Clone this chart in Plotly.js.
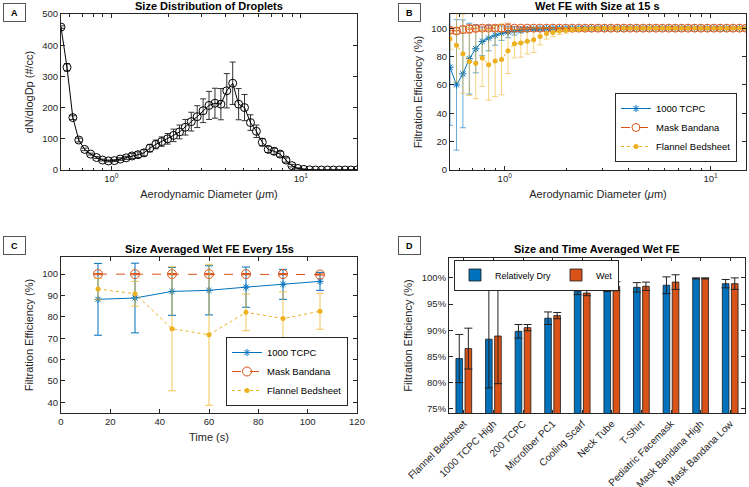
<!DOCTYPE html>
<html>
<head>
<meta charset="utf-8">
<script src="https://cdn.plot.ly/plotly-3.0.1.min.js"></script>
<style>
  html, body { margin: 0; padding: 0; background: #fff; }
  #chart { width: 749px; height: 487px; }
</style>
</head>
<body>
<div id="chart"></div>
<script>
// APS channel midpoints (um)
var diameters = [0.542, 0.583, 0.626, 0.673, 0.723, 0.777, 0.835, 0.898, 0.965, 1.037,
  1.114, 1.197, 1.286, 1.382, 1.486, 1.596, 1.715, 1.843, 1.981, 2.129,
  2.288, 2.458, 2.642, 2.839, 3.051, 3.278, 3.523, 3.786, 4.068, 4.371,
  4.698, 5.048, 5.425, 5.829, 6.264, 6.732, 7.234, 7.774, 8.354, 8.977,
  9.647, 10.37, 11.14, 11.97, 12.86, 13.82, 14.86, 15.96, 17.15, 18.43, 19.81];

// Panel A: droplet size distribution
var dNdlogDp = [458, 329, 168, 96, 66, 51, 40, 32, 29, 30,
  35, 39, 45, 49, 55, 70, 82, 91, 100, 111,
  122, 137, 155, 171, 190, 207, 214, 211, 254, 278,
  211, 200, 152, 124, 89, 66, 60, 51, 32, 14,
  5, 2, 0.5, 0, 0, 0, 0, 0, 0, 0, 0];
var dNdlogDpErr = [4, 12, 6, 6, 4, 3, 3, 3, 3, 3,
  4, 5, 8, 9, 10, 12, 14, 15, 17, 20,
  22, 25, 30, 35, 38, 45, 48, 50, 55, 68,
  50, 42, 25, 20, 12, 10, 10, 9, 7, 4,
  2, 1, 0, 0, 0, 0, 0, 0, 0, 0, 0];

// Panel B: wet FE by size at 15 s (first 47 channels)
var sizeB = diameters.slice(0, 47);
var tcpcSize = [72.5, 60, 67.8, 78.5, 85.5, 90.6, 93, 95, 96.4, 97.3,
  98.1, 98.7, 99.1, 99.4, 99.6, 99.7, 99.8, 99.9, 99.9, 100,
  100, 100, 100, 100, 100, 100, 100, 100, 100, 100,
  100, 100, 100, 100, 100, 100, 100, 100, 100, 100,
  100, 100, 100, 100, 100, 100, 100];
var tcpcSizeErr = [41, 46, 38, 25, 17, 10, 9, 7, 5, 4,
  3, 2, 1.5, 1, 1, 0.8, 0.5, 0.5, 0.4, 0.3,
  0.2, 0.2, 0.2, 0.2, 0.2, 0.2, 0.2, 0.2, 0.2, 0.2,
  0.2, 0.2, 0.2, 0.2, 0.2, 0.2, 0.2, 0.2, 0.2, 0.2,
  0.2, 0.2, 0.2, 0.2, 0.2, 0.2, 0.2];
var bandanaSize = [98.5, 98, 99, 99.5, 99.8, 100, 100, 100, 100, 100,
  100, 100, 100, 100, 100, 100, 100, 100, 100, 100,
  100, 100, 100, 100, 100, 100, 100, 100, 100, 100,
  100, 100, 100, 100, 100, 100, 100, 100, 100, 100,
  100, 100, 100, 100, 100, 100, 100];
var bandanaSizeErr = [2, 2, 2.5, 3, 2, 1.5, 1.5, 2, 2.5, 3.5,
  1, 1, 0.8, 0.6, 0.5, 0.4, 0.3, 0.3, 0.2, 0.2,
  0.2, 0.2, 0.2, 0.2, 0.2, 0.2, 0.2, 0.2, 0.2, 0.2,
  0.2, 0.2, 0.2, 0.2, 0.2, 0.2, 0.2, 0.2, 0.2, 0.2,
  0.2, 0.2, 0.2, 0.2, 0.2, 0.2, 0.2];
var flannelSize = [92.5, 88, 82, 76.5, 75.3, 79, 74.2, 76.8, 78, 84,
  89, 89.5, 90.8, 91.8, 94.2, 96.3, 97, 98, 98.5, 99,
  99.3, 99.5, 99.7, 99.8, 99.9, 99.9, 100, 100, 100, 100,
  100, 100, 100, 100, 100, 100, 100, 100, 100, 100,
  100, 100, 100, 100, 100, 100, 100];
var flannelSizeErr = [7.5, 26, 28, 24, 25, 20, 25, 25, 25, 16,
  10, 10, 9, 9, 6, 4, 3, 2.5, 2, 1.5,
  1, 0.8, 0.6, 0.5, 0.4, 0.3, 0.3, 0.3, 0.3, 0.3,
  0.3, 0.3, 0.3, 0.3, 0.3, 0.3, 0.3, 0.3, 0.3, 0.3,
  0.3, 0.3, 0.3, 0.3, 0.3, 0.3, 0.3];

// Panel C: size averaged wet FE every 15 s
var timeC = [15, 30, 45, 60, 75, 90, 105];
var tcpcTime = [88.2, 88.8, 91.9, 92.4, 93.9, 95.2, 96.6];
var tcpcTimeErr = [16.8, 16.3, 11.2, 11.5, 9.4, 7, 4.2];
var bandanaTime = [100, 100, 100, 100, 100, 100, 99.8];
var bandanaTimeErr = [0.3, 0.3, 0.3, 0.3, 0.3, 0.3, 0.3];
var flannelTime = [93, 90.8, 74.4, 71.6, 82.1, 79.2, 82.6];
var flannelTimeErr = [5, 5.8, 29, 33, 8.6, 12.5, 8.4];

// Panel D: size and time averaged FE
var materials = ['Flannel Bedsheet', '1000 TCPC High', '200 TCPC', 'Microfiber PC1', 'Cooling Scarf',
  'Neck Tube', 'T-Shirt', 'Pediatric Facemask', 'Mask Bandana High', 'Mask Bandana Low'];
var dryFE = [84.6, 88.3, 89.8, 92.3, 97.5, 98.2, 98.2, 98.6, 99.9, 98.9];
var dryErr = [4.6, 9.3, 1.3, 1.2, 0.7, 0.8, 0.9, 1.6, 0.1, 0.8];
var wetFE = [86.5, 88.9, 90.5, 92.8, 97.1, 98.4, 98.4, 99.2, 99.9, 98.9];
var wetErr = [3.9, 9.1, 0.6, 0.6, 0.5, 0.85, 0.8, 1.4, 0.1, 1.1];

var blue = '#0072BD', orange = '#D95319', yellow = '#EDB120';
var ink = '#262626';
var font = 'Liberation Sans, Arial, Helvetica, sans-serif';

function ax(extra) {
  return Object.assign({
    showline: true, linecolor: ink, linewidth: 1, mirror: 'allticks',
    ticks: 'inside', ticklen: 4, tickcolor: ink,
    tickfont: {size: 9.5, color: ink, family: font},
    zeroline: false, showgrid: false
  }, extra);
}
function logAx(extra) {
  return ax(Object.assign({
    type: 'log', tickmode: 'array', tickvals: [1, 10],
    ticktext: ['10<sup>0</sup>', '10<sup>1</sup>'],
    minor: {ticks: 'inside', ticklen: 2.5, tickcolor: ink, dtick: 'D1'}
  }, extra));
}
function err(arr, color, w) {
  return {type: 'data', array: arr, visible: true, color: color, thickness: 1, width: w || 3};
}

var traces = [
  {
    x: diameters, y: dNdlogDp, xaxis: 'x', yaxis: 'y', type: 'scatter', mode: 'lines+markers',
    line: {color: '#000', width: 1}, showlegend: false,
    marker: {symbol: 'circle-open', size: 8, color: '#000', line: {width: 1}},
    error_y: err(dNdlogDpErr, '#333', 3)
  },
  {
    x: sizeB, y: tcpcSize, xaxis: 'x2', yaxis: 'y2', name: '1000 TCPC', legend: 'legend',
    mode: 'lines+markers', line: {color: blue, width: 1},
    marker: {symbol: 'asterisk-open', size: 6, color: blue, line: {width: 1, color: blue}},
    error_y: err(tcpcSizeErr, 'rgba(0,114,189,0.6)', 3)
  },
  {
    x: sizeB, y: bandanaSize, xaxis: 'x2', yaxis: 'y2', name: 'Mask Bandana', legend: 'legend',
    mode: 'lines+markers', line: {color: orange, width: 1, dash: 'dash'},
    marker: {symbol: 'circle-open', size: 8, color: orange, line: {width: 1}},
    error_y: err(bandanaSizeErr, 'rgba(217,83,25,0.6)', 3)
  },
  {
    x: sizeB, y: flannelSize, xaxis: 'x2', yaxis: 'y2', name: 'Flannel Bedsheet', legend: 'legend',
    mode: 'lines+markers', line: {color: yellow, width: 1, dash: 'dot'},
    marker: {symbol: 'circle', size: 5, color: yellow},
    error_y: err(flannelSizeErr, 'rgba(237,177,32,0.55)', 3)
  },
  {
    x: timeC, y: tcpcTime, xaxis: 'x3', yaxis: 'y3', name: '1000 TCPC', legend: 'legend2',
    mode: 'lines+markers', line: {color: blue, width: 1},
    marker: {symbol: 'asterisk-open', size: 6, color: blue, line: {width: 1, color: blue}},
    error_y: err(tcpcTimeErr, blue, 4)
  },
  {
    x: timeC, y: bandanaTime, xaxis: 'x3', yaxis: 'y3', name: 'Mask Bandana', legend: 'legend2',
    mode: 'lines+markers', line: {color: orange, width: 1, dash: 'dash'},
    marker: {symbol: 'circle-open', size: 9, color: orange, line: {width: 1}},
    error_y: err(bandanaTimeErr, orange, 4)
  },
  {
    x: timeC, y: flannelTime, xaxis: 'x3', yaxis: 'y3', name: 'Flannel Bedsheet', legend: 'legend2',
    mode: 'lines+markers', line: {color: yellow, width: 1, dash: 'dot'},
    marker: {symbol: 'circle', size: 5, color: yellow},
    error_y: err(flannelTimeErr, 'rgba(237,177,32,0.75)', 4)
  },
  {
    x: materials, y: dryFE, xaxis: 'x4', yaxis: 'y4', type: 'bar', name: 'Relatively Dry', legend: 'legend3',
    marker: {color: blue, line: {color: '#1a1a1a', width: 0.8}},
    error_y: err(dryErr, '#222', 4)
  },
  {
    x: materials, y: wetFE, xaxis: 'x4', yaxis: 'y4', type: 'bar', name: 'Wet', legend: 'legend3',
    marker: {color: orange, line: {color: '#1a1a1a', width: 0.8}},
    error_y: err(wetErr, '#222', 4)
  }
];

var W = 749, H = 487;
function px(x) { return x / W; }
function py(y) { return 1 - y / H; }

function titleAnn(text, x, y) {
  return {text: '<b>' + text + '</b>', x: px(x), y: py(y), xref: 'paper', yref: 'paper',
    showarrow: false, xanchor: 'center', yanchor: 'middle', font: {size: 11, color: '#000', family: font}};
}
function labelAnn(text, x, y) {
  return {text: '<b>' + text + '</b>', x: px(x), y: py(y), xref: 'paper', yref: 'paper',
    showarrow: false, xanchor: 'left', yanchor: 'top', font: {size: 9, color: '#000', family: font},
    bordercolor: '#555', borderwidth: 1, borderpad: 3, bgcolor: '#fff', width: 15, height: 11};
}

var axTitle = function (t, s) { return {text: t, font: {size: 11, color: ink, family: font}, standoff: s}; };
var legFont = {size: 9.5, color: '#000', family: font};

var layout = {
  width: W, height: H,
  margin: {l: 0, r: 0, t: 0, b: 0},
  paper_bgcolor: '#fff', plot_bgcolor: '#fff',
  font: {family: font, color: ink},
  barmode: 'group', bargap: 0.385, bargroupgap: 0.27,
  xaxis: logAx({domain: [px(61), px(357)], anchor: 'y',
    range: [Math.log10(diameters[0]), Math.log10(diameters[diameters.length - 1])],
    title: axTitle('Aerodynamic Diameter (<i>μ</i>m)', 6)}),
  yaxis: ax({domain: [py(170), py(14)], anchor: 'x', range: [0, 500], dtick: 100,
    title: axTitle('dN/dlogDp (#/cc)', 6)}),
  xaxis2: logAx({domain: [px(450), px(746)], anchor: 'y2',
    range: [Math.log10(sizeB[0]), Math.log10(sizeB[sizeB.length - 1])],
    title: axTitle('Aerodynamic Diameter (<i>μ</i>m)', 6)}),
  yaxis2: ax({domain: [py(170), py(14)], anchor: 'x2', range: [0, 110], dtick: 20,
    title: axTitle('Filtration Efficiency (%)', 6)}),
  xaxis3: ax({domain: [px(61), px(357)], anchor: 'y3', range: [0, 120], dtick: 20,
    title: axTitle('Time (s)', 6)}),
  yaxis3: ax({domain: [py(413), py(257)], anchor: 'x3', range: [35, 108], tickvals: [40, 50, 60, 70, 80, 90, 100],
    title: axTitle('Filtration Efficiency (%)', 6)}),
  xaxis4: ax({domain: [px(449), px(745)], anchor: 'y4', tickangle: -45, ticklen: 3, range: [-0.5, 9.5],
    tickfont: {size: 10, color: ink, family: font}}),
  yaxis4: ax({domain: [py(413), py(258)], anchor: 'x4', range: [74.2, 103.8], dtick: 5, ticksuffix: '%',
    title: axTitle('Filtration Efficiency (%)', 6)}),
  legend: {x: px(737), y: py(162), xanchor: 'right', yanchor: 'bottom', bgcolor: '#fff',
    bordercolor: ink, borderwidth: 1, font: legFont, itemwidth: 30, tracegroupgap: 0},
  legend2: {x: px(348), y: py(406), xanchor: 'right', yanchor: 'bottom', bgcolor: '#fff',
    bordercolor: ink, borderwidth: 1, font: legFont, itemwidth: 30},
  legend3: {x: px(454), y: py(259.5), xanchor: 'left', yanchor: 'top', orientation: 'h', bgcolor: '#fff',
    bordercolor: ink, borderwidth: 1, font: {size: 9, color: '#000', family: font}, itemwidth: 30},
  annotations: [
    titleAnn('Size Distribution of Droplets', 209, 6),
    titleAnn('Wet FE with Size at 15 s', 597, 6),
    titleAnn('Size Averaged Wet FE Every 15s', 209, 249),
    titleAnn('Size and Time Averaged Wet FE', 597, 249),
    labelAnn('A', 3, 3),
    labelAnn('B', 398, 3),
    labelAnn('C', 3, 236),
    labelAnn('D', 398, 236)
  ]
};

Plotly.newPlot('chart', traces, layout, {staticPlot: true});
</script>
</body>
</html>
